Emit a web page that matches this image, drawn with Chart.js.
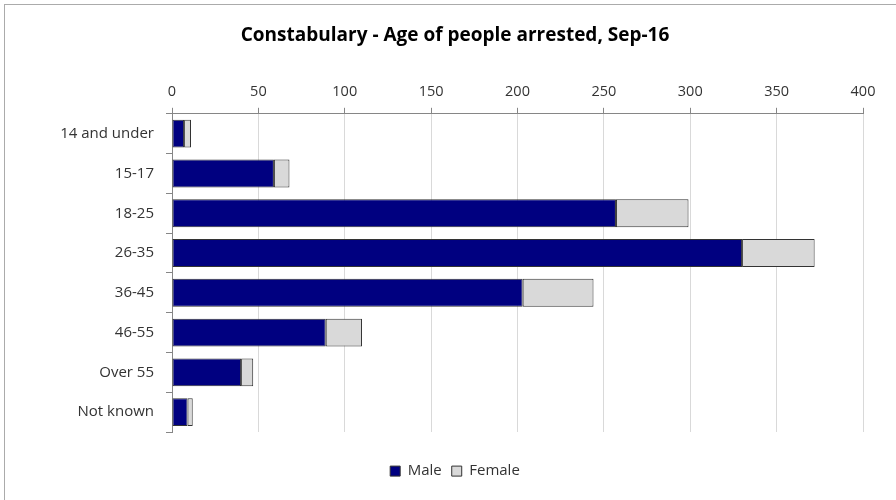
<!DOCTYPE html>
<html>
<head>
<meta charset="utf-8">
<script src="https://cdn.jsdelivr.net/npm/chart.js@4.4.1/dist/chart.umd.min.js"></script>
<style>
  html, body { margin: 0; padding: 0; background: #fff; }
  #frame { position: absolute; left: 4px; top: 4px; width: 900px; height: 500px;
           border-left: 1px solid #ababab; border-top: 1px solid #ababab; }
  #wrap { position: absolute; left: 0; top: 0; width: 896px; height: 500px; }
</style>
</head>
<body>
<div id="frame"></div>
<div id="wrap"><canvas id="chart" width="896" height="500"></canvas></div>
<script>
const ageGroups = ['14 and under', '15-17', '18-25', '26-35', '36-45', '46-55', 'Over 55', 'Not known'];
const maleArrests = [7, 59, 257, 330, 203, 89, 40, 9];
const femaleArrests = [4, 9, 42, 42, 41, 21, 7, 3];
const axisTicks = [0, 50, 100, 150, 200, 250, 300, 350, 400];

const FONT = '"Open Sans", Lato, sans-serif';

// legend box gets a fixed height so the items sit lower, like the Excel original
const legendSpace = {
  id: 'legendSpace',
  beforeUpdate(chart) {
    const lg = chart.legend;
    if (lg && !lg._patched) {
      const fit = lg.fit;
      lg.fit = function () {
        fit.call(this);
        this.height = 68;
      };
      lg._patched = true;
    }
  }
};

new Chart(document.getElementById('chart'), {
  type: 'bar',
  data: {
    labels: ageGroups,
    datasets: [
      {
        label: 'Male',
        data: maleArrests,
        backgroundColor: '#000080',
        borderColor: '#333333',
        borderWidth: 1,
        borderSkipped: false
      },
      {
        label: 'Female',
        data: femaleArrests,
        backgroundColor: '#d9d9d9',
        borderColor: '#333333',
        borderWidth: 1,
        borderSkipped: false
      }
    ]
  },
  plugins: [legendSpace],
  options: {
    indexAxis: 'y',
    responsive: false,
    animation: false,
    barPercentage: 0.7,
    categoryPercentage: 1,
    layout: { padding: { left: 47, right: 33, top: 0, bottom: 0 } },
    scales: {
      x: {
        position: 'top',
        stacked: true,
        min: 0,
        max: 400,
        afterBuildTicks: (axis) => { axis.ticks = axisTicks.map(v => ({ value: v })); },
        afterFit: (axis) => { axis.height = 48; },
        grid: { color: '#d9d9d9', tickColor: '#868686', tickLength: 6 },
        border: { color: '#868686' },
        ticks: { color: '#333333', font: { family: FONT, size: 14.5 }, padding: 7 }
      },
      y: {
        stacked: true,
        afterFit: (axis) => { axis.width = 125; },
        grid: { drawOnChartArea: false, color: '#868686', tickLength: 6, offset: true },
        border: { color: '#868686' },
        ticks: { color: '#333333', font: { family: FONT, size: 15 }, padding: 12 }
      }
    },
    plugins: {
      title: {
        display: true,
        text: 'Constabulary - Age of people arrested, Sep-16',
        color: '#000000',
        font: { family: FONT, size: 19, weight: 'bold' },
        padding: { top: 24, bottom: 19 }
      },
      legend: {
        position: 'bottom',
        title: { display: true, text: ' ', font: { size: 13 }, padding: { top: 3, bottom: 3 } },
        labels: {
          color: '#333333',
          font: { family: FONT, size: 15 },
          boxWidth: 10,
          boxHeight: 10,
          padding: 10
        }
      },
      tooltip: { enabled: false }
    }
  }
});
</script>
</body>
</html>
